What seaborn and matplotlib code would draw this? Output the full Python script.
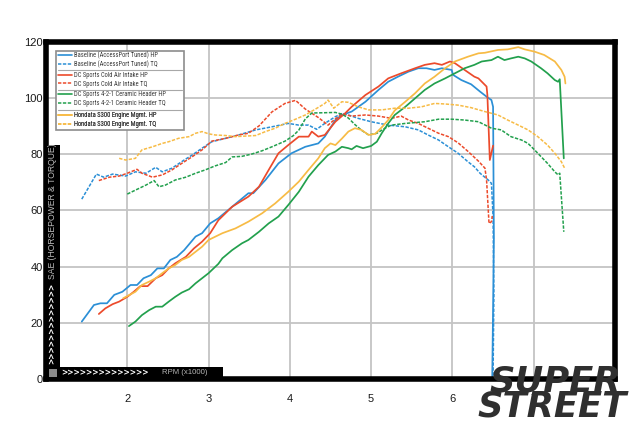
import matplotlib
matplotlib.use("Agg")
import matplotlib.pyplot as plt
import seaborn as sns
import pandas as pd
from matplotlib.lines import Line2D
from matplotlib.patches import Rectangle

sns.set_style("white")
plt.rcParams["font.family"] = ["Liberation Sans", "DejaVu Sans"]

# ---------------- data ----------------
base_hp_rpm = [1.44, 1.59, 1.67, 1.75, 1.84, 1.94, 2.04, 2.12, 2.20, 2.29, 2.37, 2.45, 2.53, 2.61, 2.70,
               2.84, 2.92, 3.02, 3.12, 3.29, 3.49, 3.55, 3.70, 3.86, 4.02, 4.19, 4.35, 4.43, 4.56, 4.64,
               4.76, 4.93, 5.09, 5.21, 5.33, 5.46, 5.58, 5.68, 5.78, 5.87, 5.99, 6.01, 6.11, 6.23, 6.34,
               6.42, 6.48, 6.50, 6.51, 6.49]
base_hp = [20.5, 26.4, 27.0, 27.0, 30.0, 31.1, 33.5, 33.5, 35.9, 37.0, 39.4, 39.4, 42.4, 43.5, 45.9,
           50.7, 51.9, 55.4, 57.2, 61.3, 66.1, 66.1, 70.8, 76.7, 80.3, 82.6, 83.8, 86.2, 92.1, 93.9,
           95.1, 98.6, 102.8, 105.7, 107.5, 109.3, 110.5, 110.5, 109.9, 110.5, 109.9, 108.1, 106.3, 104.8, 102.2,
           100.4, 99.2, 96.8, 50.0, 1.0]

base_tq_rpm = [1.44, 1.62, 1.71, 1.82, 1.98, 2.10, 2.23, 2.35, 2.43, 2.55, 2.70, 2.80, 2.92, 3.04, 3.21,
               3.37, 3.58, 3.78, 3.98, 4.11, 4.23, 4.33, 4.43, 4.56, 4.65, 4.72, 4.84, 5.00, 5.21, 5.42,
               5.58, 5.70, 5.83, 5.95, 6.07, 6.19, 6.27, 6.34, 6.44, 6.48, 6.50, 6.51, 6.50]
base_tq = [64.0, 72.9, 71.8, 72.9, 72.2, 73.7, 73.2, 75.3, 73.7, 75.0, 77.9, 79.7, 82.1, 84.4, 85.6,
           86.8, 88.6, 89.7, 90.9, 90.3, 90.3, 88.8, 90.9, 93.3, 94.5, 93.9, 92.7, 91.5, 90.3, 89.7,
           88.6, 86.8, 85.0, 82.6, 80.3, 77.3, 75.5, 73.2, 70.8, 69.6, 57.8, 30.0, 1.0]

cai_hp_rpm = [1.65, 1.73, 1.82, 1.90, 2.00, 2.08, 2.16, 2.25, 2.35, 2.43, 2.51, 2.59, 2.72, 2.82, 2.92,
              3.02, 3.12, 3.29, 3.49, 3.62, 3.74, 3.86, 3.98, 4.11, 4.23, 4.27, 4.35, 4.43, 4.56, 4.68,
              4.76, 4.93, 5.09, 5.21, 5.37, 5.54, 5.66, 5.78, 5.87, 5.97, 6.03, 6.15, 6.27, 6.32, 6.42,
              6.43, 6.46, 6.50]
cai_hp = [23.2, 25.2, 26.7, 27.6, 29.3, 31.1, 33.1, 33.1, 35.9, 37.0, 39.4, 41.2, 43.5, 46.5, 48.9,
          51.9, 56.5, 61.3, 64.9, 68.4, 74.4, 80.3, 83.2, 86.2, 86.2, 88.0, 86.2, 86.8, 91.5, 94.5,
          96.8, 101.0, 104.0, 106.9, 108.7, 110.5, 111.7, 112.3, 111.7, 112.9, 112.3, 109.9, 107.5, 106.9, 104.0,
          101.0, 77.9, 83.0]

cai_tq_rpm = [1.65, 1.78, 1.90, 2.00, 2.12, 2.18, 2.31, 2.43, 2.55, 2.67, 2.80, 2.92, 3.04, 3.21, 3.37,
              3.49, 3.62, 3.78, 3.94, 4.07, 4.19, 4.27, 4.35, 4.47, 4.56, 4.64, 4.76, 4.93, 5.09, 5.25,
              5.37, 5.46, 5.58, 5.70, 5.83, 5.95, 6.07, 6.19, 6.32, 6.40, 6.42, 6.45, 6.48, 6.49]
cai_tq = [70.6, 71.8, 72.2, 73.2, 74.6, 73.2, 71.8, 72.6, 74.4, 76.7, 79.1, 81.5, 84.6, 85.6, 86.8,
          87.4, 90.0, 95.0, 98.0, 99.1, 96.0, 94.5, 93.0, 90.3, 92.5, 94.2, 93.5, 93.9, 93.5, 92.7,
          93.5, 92.1, 90.9, 89.2, 87.4, 86.2, 84.0, 81.0, 77.5, 75.0, 70.8, 55.4, 56.0, 58.0]

hdr_hp_rpm = [2.02, 2.10, 2.18, 2.27, 2.35, 2.43, 2.51, 2.59, 2.67, 2.76, 2.84, 2.92, 3.00, 3.12, 3.17,
              3.29, 3.41, 3.49, 3.62, 3.74, 3.86, 3.98, 4.11, 4.23, 4.35, 4.47, 4.56, 4.64, 4.72, 4.76,
              4.82, 4.90, 5.00, 5.07, 5.13, 5.21, 5.29, 5.42, 5.54, 5.66, 5.78, 5.91, 6.03, 6.15, 6.27,
              6.36, 6.48, 6.56, 6.64, 6.72, 6.81, 6.89, 6.97, 7.09, 7.17, 7.26, 7.30, 7.32, 7.37]
hdr_hp = [18.9, 20.5, 22.8, 24.6, 25.8, 25.8, 27.6, 29.3, 30.8, 32.0, 34.1, 35.9, 37.7, 41.0, 43.0,
          45.9, 48.3, 49.5, 52.4, 55.4, 57.8, 61.9, 66.6, 72.0, 76.1, 79.7, 80.9, 82.6, 82.1, 81.7,
          82.9, 82.1, 82.9, 84.4, 87.4, 90.9, 93.9, 96.8, 99.8, 102.8, 105.1, 106.9, 108.7, 110.5, 111.7,
          112.9, 113.4, 114.6, 113.4, 114.0, 114.6, 114.0, 112.9, 110.5, 108.7, 106.3, 105.7, 106.6, 78.5]

hdr_tq_rpm = [2.00, 2.10, 2.23, 2.33, 2.39, 2.47, 2.59, 2.72, 2.84, 2.96, 3.08, 3.21, 3.29, 3.41, 3.53,
              3.66, 3.78, 3.94, 4.04, 4.11, 4.19, 4.27, 4.43, 4.56, 4.64, 4.72, 4.80, 4.88, 4.97, 5.07,
              5.17, 5.25, 5.42, 5.66, 5.83, 5.99, 6.15, 6.32, 6.48, 6.60, 6.72, 6.85, 6.93, 7.01, 7.09,
              7.17, 7.26, 7.30, 7.32, 7.34, 7.37]
hdr_tq = [65.8, 67.2, 69.0, 70.6, 68.4, 69.0, 70.8, 71.8, 73.2, 74.4, 75.8, 77.0, 79.0, 79.2, 80.0,
          81.2, 82.6, 84.6, 86.5, 88.5, 92.5, 94.6, 94.7, 94.8, 94.2, 92.8, 90.5, 88.5, 86.8, 87.4,
          89.2, 90.3, 90.9, 91.5, 92.4, 92.4, 92.1, 91.5, 89.2, 88.6, 86.2, 85.0, 83.8, 81.5, 79.1,
          76.7, 73.7, 72.6, 73.2, 64.9, 52.4]

hon_hp_rpm = [1.95, 2.10, 2.18, 2.27, 2.35, 2.43, 2.51, 2.59, 2.67, 2.76, 2.84, 2.92, 3.00, 3.17, 3.33,
              3.49, 3.66, 3.82, 3.98, 4.11, 4.23, 4.35, 4.43, 4.50, 4.56, 4.64, 4.72, 4.80, 4.88, 4.97,
              5.05, 5.13, 5.21, 5.29, 5.42, 5.54, 5.66, 5.78, 5.91, 6.03, 6.19, 6.32, 6.40, 6.56, 6.68,
              6.81, 6.89, 7.01, 7.13, 7.26, 7.34, 7.38, 7.39]
hon_hp = [28.8, 31.1, 33.5, 34.7, 35.9, 37.7, 39.4, 40.6, 42.4, 43.5, 45.3, 47.1, 49.5, 51.9, 53.6,
          56.0, 59.0, 62.5, 66.6, 70.2, 74.4, 78.5, 82.1, 83.8, 83.2, 85.5, 88.0, 89.2, 88.6, 86.8,
          87.2, 89.5, 92.1, 95.5, 98.6, 101.6, 105.1, 107.5, 110.5, 112.9, 114.6, 115.8, 116.0, 117.0, 117.2,
          118.0, 117.2, 116.4, 115.2, 112.9, 109.9, 107.5, 105.1]

hon_tq_rpm = [1.90, 1.98, 2.10, 2.18, 2.31, 2.43, 2.51, 2.63, 2.76, 2.84, 2.92, 3.00, 3.08, 3.21, 3.33,
              3.45, 3.58, 3.70, 3.82, 3.94, 4.07, 4.19, 4.31, 4.43, 4.47, 4.54, 4.64, 4.72, 4.84, 4.97,
              5.13, 5.29, 5.46, 5.62, 5.78, 5.91, 6.07, 6.23, 6.40, 6.56, 6.68, 6.81, 6.93, 7.05, 7.17,
              7.26, 7.34, 7.38]
hon_tq = [78.5, 77.9, 78.5, 81.5, 82.6, 83.8, 84.4, 85.6, 86.2, 87.4, 88.0, 87.2, 86.8, 86.6, 86.2,
          86.4, 86.6, 88.0, 89.2, 90.9, 92.4, 93.9, 95.9, 98.0, 99.2, 96.3, 98.6, 98.4, 96.8, 95.7,
          95.7, 96.3, 96.3, 96.8, 98.0, 97.8, 97.4, 96.5, 95.1, 93.9, 92.1, 90.3, 88.6, 86.2, 83.2,
          80.3, 77.3, 75.0]

legend_labels = [
    "Baseline (AccessPort Tuned) HP", "Baseline (AccessPort Tuned) TQ",
    "DC Sports Cold Air Intake HP", "DC Sports Cold Air Intake TQ",
    "DC Sports 4-2-1 Ceramic Header HP", "DC Sports 4-2-1 Ceramic Header TQ",
    "Hondata S300 Engine Mgmt. HP", "Hondata S300 Engine Mgmt. TQ",
]
x_ticks = [2, 3, 4, 5, 6, 7, 8]
y_ticks = [0, 20, 40, 60, 80, 100, 120]

# ---------------- styling ----------------
colors = ["#2b8fd6", "#ec4a2b", "#22a04d", "#f7bb45"]
dash = (0, (2.2, 1.0))

series = [
    (base_hp_rpm, base_hp, colors[0], "-"), (base_tq_rpm, base_tq, colors[0], dash),
    (cai_hp_rpm, cai_hp, colors[1], "-"), (cai_tq_rpm, cai_tq, colors[1], dash),
    (hdr_hp_rpm, hdr_hp, colors[2], "-"), (hdr_tq_rpm, hdr_tq, colors[2], dash),
    (hon_hp_rpm, hon_hp, colors[3], "-"), (hon_tq_rpm, hon_tq, colors[3], dash),
]

fig = plt.figure(figsize=(6.4, 4.26), dpi=100)
AX_L, AX_R, AX_T, AX_B = 46, 615, 41.5, 379.3
ax = fig.add_axes([AX_L / 640, 1 - AX_B / 426, (AX_R - AX_L) / 640, (AX_B - AX_T) / 426])

for i, (xs, ys, c, ls) in enumerate(series):
    df = pd.DataFrame({"rpm": xs, "val": ys})
    sns.lineplot(data=df, x="rpm", y="val", ax=ax, sort=False, estimator=None,
                 color=c, linestyle=ls, linewidth=1.25 if ls == "-" else 1.1, zorder=3)

ax.set_xlim(1.0, 8.0)
ax.set_ylim(0, 120)
ax.set_xticks(x_ticks)
ax.set_yticks(y_ticks)
ax.set_xlabel("")
ax.set_ylabel("")
ax.grid(True, color="#c4c4c4", linewidth=1.3, zorder=0)
ax.set_axisbelow(True)
for s in ax.spines.values():
    s.set_linewidth(4)
    s.set_color("black")
    s.set_zorder(6)
ax.tick_params(length=0, labelsize=8, colors="#1a1a1a")
ax.tick_params(axis="x", pad=10.5)
ax.tick_params(axis="y", pad=2.5)

W = AX_R - AX_L
H = AX_B - AX_T
def axx(px):
    return (px - AX_L) / W
def axy(py):
    return (AX_B - py) / H

# black bands along left and bottom edges
ax.add_patch(Rectangle((0, 0), axx(60), axy(145), transform=ax.transAxes,
                       facecolor="black", edgecolor="none", zorder=6, clip_on=False))
ax.add_patch(Rectangle((0, 0), axx(223), axy(367), transform=ax.transAxes,
                       facecolor="black", edgecolor="none", zorder=6, clip_on=False))
ax.add_patch(Rectangle((axx(48.5), axy(377)), axx(56.5) - axx(48.5), axy(369) - axy(377),
                       transform=ax.transAxes, facecolor="#8a8a8a", edgecolor="none",
                       zorder=7, clip_on=False))
ax.text(axx(61), axy(373), ">" * 14, transform=ax.transAxes, color="white", family="DejaVu Sans",
        fontsize=5.5, fontweight="bold", ha="left", va="center", zorder=8)
ax.text(axx(162), axy(373), "RPM (x1000)", transform=ax.transAxes, color="#b5b5b5",
        fontsize=5.6, ha="left", va="center", zorder=8)
ax.text(axx(52.5), axy(364), ">" * 13, transform=ax.transAxes, color="white", family="DejaVu Sans",
        fontsize=5.5, fontweight="bold", rotation=90, ha="center", va="bottom", zorder=8)
ax.text(axx(52.5), axy(279), "SAE (HORSEPOWER & TORQUE)", transform=ax.transAxes,
        color="#bdbdbd", fontsize=6.2, rotation=90, ha="center", va="bottom", zorder=8)

# legend: frame + four grouped legends + separators
ax.add_patch(Rectangle((axx(56), axy(130)), axx(184) - axx(56), axy(50.7) - axy(130),
                       transform=ax.transAxes, facecolor="white", edgecolor="#8c8c8c",
                       linewidth=1.2, zorder=8))
group_tops = [51.4, 71.8, 91.4, 112.1]
legfont = {"family": ["Roboto Condensed", "Liberation Sans Narrow", "Open Sans Condensed",
                      "Liberation Sans", "DejaVu Sans"], "size": 4.7}
for g in range(4):
    handles = [Line2D([], [], color=series[2 * g][2], linestyle="-", linewidth=1.2),
               Line2D([], [], color=series[2 * g + 1][2], linestyle=dash, linewidth=1.1)]
    leg = ax.legend(handles, legend_labels[2 * g:2 * g + 2], loc="upper left",
                    bbox_to_anchor=(axx(57.5), axy(group_tops[g])), bbox_transform=ax.transAxes,
                    frameon=False, prop=legfont, handlelength=2.2, handletextpad=0.3,
                    borderpad=0, borderaxespad=0, labelspacing=0.3, labelcolor="#3c3c3c")
    leg.set_zorder(9)
    ax.add_artist(leg)
for sy in [70, 90, 110]:
    ax.add_line(Line2D([axx(58), axx(182)], [axy(sy), axy(sy)], transform=ax.transAxes,
                       color="#a8a8a8", linewidth=0.8, zorder=9))

# SUPER STREET logo
fig.text(555 / 640, 1 - 381.5 / 426, "SUPER", fontsize=25.5, fontweight="heavy", style="italic",
         family="DejaVu Sans", color="#2f2f2f", ha="center", va="center", zorder=20)
fig.text(552 / 640, 1 - 406.5 / 426, "STREET", fontsize=25.5, fontweight="heavy", style="italic",
         family="DejaVu Sans", color="#2f2f2f", ha="center", va="center", zorder=20)

fig.savefig("out.png", dpi=100)
